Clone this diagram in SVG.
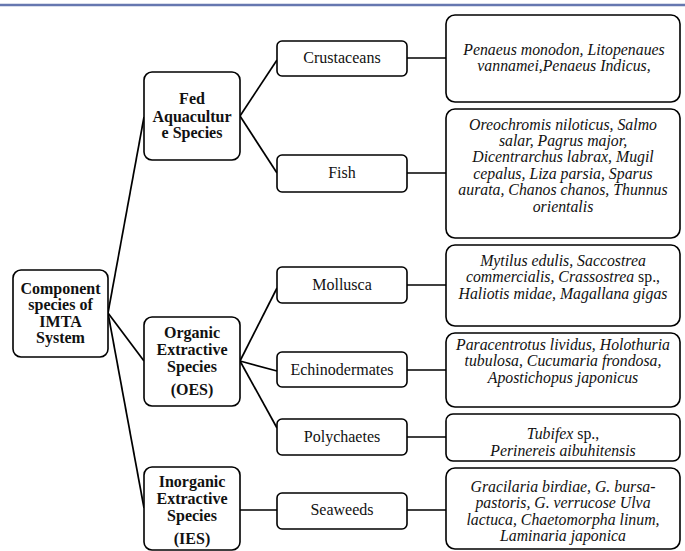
<svg xmlns="http://www.w3.org/2000/svg" width="685" height="551" viewBox="0 0 685 551">
<style>
.box{fill:#fff;stroke:#000;stroke-width:1.6}
.b{font-weight:bold;font-size:16px;text-anchor:middle;fill:#111}
.r{font-size:16px;text-anchor:middle;fill:#111}
.i{font-style:italic;font-size:15.8px;text-anchor:middle;fill:#111}
.n{font-style:normal}
.c{stroke:#000;stroke-width:1.7;fill:none}
</style>
<rect width="685" height="551" fill="#fff"/>
<line x1="0" y1="5" x2="685" y2="5" stroke="#6677b0" stroke-width="2.5"/>
<g id="connectors">
<line class="c" x1="108" y1="313" x2="144" y2="117"/>
<line class="c" x1="108" y1="313" x2="144" y2="361"/>
<line class="c" x1="108" y1="313" x2="144" y2="508"/>
<line class="c" x1="240" y1="116" x2="277" y2="60"/>
<line class="c" x1="240" y1="116" x2="277" y2="173"/>
<line class="c" x1="407" y1="58" x2="446" y2="58"/>
<line class="c" x1="407" y1="173" x2="446" y2="173"/>
<line class="c" x1="240" y1="361" x2="277" y2="288"/>
<line class="c" x1="240" y1="361" x2="277" y2="371"/>
<line class="c" x1="240" y1="361" x2="277" y2="428"/>
<line class="c" x1="407" y1="285" x2="446" y2="285"/>
<line class="c" x1="407" y1="370" x2="446" y2="370"/>
<line class="c" x1="407" y1="437" x2="446" y2="437"/>
<line class="c" x1="240" y1="510" x2="277" y2="510"/>
<line class="c" x1="407" y1="510" x2="446" y2="510"/>
</g>
<g font-family="Liberation Serif">
<g id="root">
<rect class="box" x="13" y="270" width="95" height="87" rx="8"/>
<text class="b" x="60.5" y="294">Component</text>
<text class="b" x="60.5" y="310">species of</text>
<text class="b" x="60.5" y="327">IMTA</text>
<text class="b" x="60.5" y="343">System</text>
</g>
<g id="fed">
<rect class="box" x="144" y="72" width="96" height="88" rx="8"/>
<text class="b" x="192" y="104">Fed</text>
<text class="b" x="192" y="122">Aquacultur</text>
<text class="b" x="192" y="138">e Species</text>
</g>
<g id="oes">
<rect class="box" x="144" y="317" width="96" height="89" rx="8"/>
<text class="b" x="192" y="338">Organic</text>
<text class="b" x="192" y="355">Extractive</text>
<text class="b" x="192" y="372">Species</text>
<text class="b" x="192" y="395">(OES)</text>
</g>
<g id="ies">
<rect class="box" x="144" y="467" width="96" height="83" rx="8"/>
<text class="b" x="192" y="487">Inorganic</text>
<text class="b" x="192" y="504">Extractive</text>
<text class="b" x="192" y="521">Species</text>
<text class="b" x="192" y="544">(IES)</text>
</g>
<g id="crustaceans">
<rect class="box" x="277" y="41" width="130" height="35" rx="5"/>
<text class="r" x="342" y="63">Crustaceans</text>
</g>
<g id="fish">
<rect class="box" x="277" y="155" width="130" height="37" rx="5"/>
<text class="r" x="342" y="178">Fish</text>
</g>
<g id="mollusca">
<rect class="box" x="277" y="267" width="130" height="36" rx="5"/>
<text class="r" x="342" y="290">Mollusca</text>
</g>
<g id="echinodermates">
<rect class="box" x="277" y="352" width="130" height="35" rx="5"/>
<text class="r" x="342" y="375">Echinodermates</text>
</g>
<g id="polychaetes">
<rect class="box" x="277" y="419" width="130" height="36" rx="5"/>
<text class="r" x="342" y="442">Polychaetes</text>
</g>
<g id="seaweeds">
<rect class="box" x="277" y="493" width="130" height="36" rx="5"/>
<text class="r" x="342" y="515">Seaweeds</text>
</g>
<g id="crustaceans-species">
<rect class="box" x="446" y="15" width="234" height="87" rx="9"/>
<text class="i" x="564" y="55">Penaeus monodon, Litopenaues</text>
<text class="i" x="564" y="71">vannamei,Penaeus Indicus,</text>
</g>
<g id="fish-species">
<rect class="box" x="446" y="109" width="234" height="129" rx="9"/>
<text class="i" x="563" y="130">Oreochromis niloticus, Salmo</text>
<text class="i" x="563" y="146">salar, Pagrus major,</text>
<text class="i" x="563" y="162">Dicentrarchus labrax, Mugil</text>
<text class="i" x="563" y="179">cepalus, Liza parsia, Sparus</text>
<text class="i" x="563" y="195">aurata, Chanos chanos, Thunnus</text>
<text class="i" x="563" y="212">orientalis</text>
</g>
<g id="mollusca-species">
<rect class="box" x="446" y="245" width="234" height="81" rx="9"/>
<text class="i" x="563" y="266">Mytilus edulis, Saccostrea</text>
<text class="i" x="563" y="282">commercialis, Crassostrea <tspan class="n">sp.,</tspan></text>
<text class="i" x="563" y="299">Haliotis midae, Magallana gigas</text>
</g>
<g id="echinodermates-species">
<rect class="box" x="446" y="333" width="234" height="74" rx="9"/>
<text class="i" x="563" y="350">Paracentrotus lividus, Holothuria</text>
<text class="i" x="563" y="366">tubulosa, Cucumaria frondosa,</text>
<text class="i" x="563" y="383">Apostichopus japonicus</text>
</g>
<g id="polychaetes-species">
<rect class="box" x="446" y="414" width="234" height="47" rx="7"/>
<text class="i" x="563" y="439">Tubifex <tspan class="n">sp.,</tspan></text>
<text class="i" x="563" y="456">Perinereis aibuhitensis</text>
</g>
<g id="seaweeds-species">
<rect class="box" x="446" y="468" width="234" height="81" rx="9"/>
<text class="i" x="563" y="492">Gracilaria birdiae, G. bursa-</text>
<text class="i" x="563" y="508">pastoris, G. verrucose Ulva</text>
<text class="i" x="563" y="525">lactuca, Chaetomorpha linum,</text>
<text class="i" x="563" y="541">Laminaria japonica</text>
</g>
</g>
</svg>
